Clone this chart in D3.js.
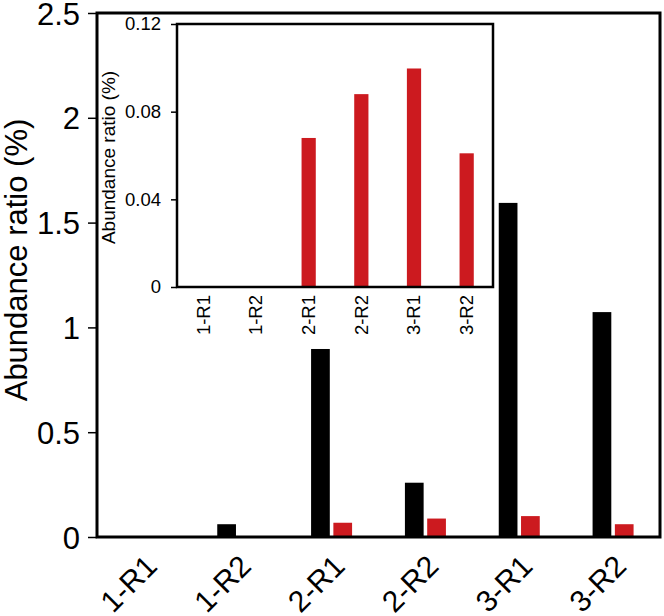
<!DOCTYPE html>
<html>
<head>
<meta charset="utf-8">
<script src="https://cdn.jsdelivr.net/npm/d3@7"></script>
<style>
  html, body { margin: 0; padding: 0; background: #fff; }
  text { font-family: "Liberation Sans", Arial, sans-serif; fill: #000; }
</style>
</head>
<body>
<svg id="chart" width="664" height="616"></svg>
<script>
// ---- data ----
const categories = ["1-R1", "1-R2", "2-R1", "2-R2", "3-R1", "3-R2"];
const seriesNames = ["black", "red"];
const blackValues = [0, 0.061, 0.897, 0.259, 1.594, 1.073];
const redValues = [0, 0, 0.068, 0.088, 0.0997, 0.061];
const mainTicks = [0, 0.5, 1, 1.5, 2, 2.5];
const mainTickLabels = ["0", "0.5", "1", "1.5", "2", "2.5"];
const insetTicks = [0, 0.04, 0.08, 0.12];
const insetTickLabels = ["0", "0.04", "0.08", "0.12"];
const yTitle = "Abundance ratio (%)";
const colors = { black: "#000000", red: "#cc1a1f" };

const svg = d3.select("#chart");
const FONT = "'Liberation Sans', Arial, sans-serif";

// ---- main chart ----
const M = { left: 97, right: 660, top: 13, bottom: 537 };
const x0 = d3.scaleBand().domain(categories).range([M.left, M.right]).padding(0);
const x1 = d3.scaleBand().domain(seriesNames)
  .range([x0.bandwidth() / 2 - 20.5, x0.bandwidth() / 2 + 20.5]).paddingInner(0.16);
const y = d3.scaleLinear().domain([0, 2.5]).range([M.bottom, M.top]);

const rows = categories.map((c, i) => ({ cat: c, black: blackValues[i], red: redValues[i] }));

const g = svg.append("g");
rows.forEach(r => {
  seriesNames.forEach(s => {
    if (r[s] > 0) {
      g.append("rect")
        .attr("x", x0(r.cat) + x1(s))
        .attr("y", y(r[s]))
        .attr("width", x1.bandwidth())
        .attr("height", y(0) - y(r[s]))
        .attr("fill", colors[s]);
    }
  });
});

// main y axis
const yAxis = d3.axisLeft(y).tickValues(mainTicks)
  .tickFormat((d, i) => mainTickLabels[i]).tickSizeInner(9).tickSizeOuter(0).tickPadding(8);
const ya = svg.append("g").attr("transform", `translate(${M.left},0)`).call(yAxis);
ya.select(".domain").remove();
ya.selectAll(".tick line").attr("stroke", "#000").attr("stroke-width", 1.5);
ya.selectAll(".tick text").style("font-size", "31px")
  .style("font-family", FONT).attr("dy", "0.36em");

// main frame
svg.append("rect").attr("x", M.left).attr("y", M.top)
  .attr("width", M.right - M.left).attr("height", M.bottom - M.top)
  .attr("fill", "none").attr("stroke", "#000").attr("stroke-width", 3);

// main x labels
svg.append("g").selectAll("text").data(categories).join("text")
  .attr("transform", d => `translate(${x0(d) + x0.bandwidth() / 2 + 15},${M.bottom + 31}) rotate(-45)`)
  .attr("text-anchor", "end")
  .style("font-size", "30px")
  .text(d => d);

// main y title
svg.append("text")
  .attr("transform", `translate(27,260) rotate(-90)`)
  .attr("text-anchor", "middle")
  .style("font-size", "31px")
  .text(yTitle);

// ---- inset ----
const I = { left: 177, right: 493, top: 24, bottom: 287 };
svg.append("rect").attr("x", I.left).attr("y", I.top)
  .attr("width", I.right - I.left).attr("height", I.bottom - I.top)
  .attr("fill", "#fff").attr("stroke", "none");

const xi = d3.scaleBand().domain(categories).range([I.left, I.right]).paddingInner(0.73).paddingOuter(0.365);
const yi = d3.scaleLinear().domain([0, 0.12]).range([I.bottom, I.top]);

svg.append("g").selectAll("rect").data(categories.map((c, i) => ({ cat: c, v: redValues[i] })).filter(d => d.v > 0))
  .join("rect")
  .attr("x", d => xi(d.cat))
  .attr("y", d => yi(d.v))
  .attr("width", xi.bandwidth())
  .attr("height", d => yi(0) - yi(d.v))
  .attr("fill", colors.red);

const yiAxis = d3.axisLeft(yi).tickValues(insetTicks)
  .tickFormat((d, i) => insetTickLabels[i]).tickSizeInner(6).tickSizeOuter(0).tickPadding(10);
const yia = svg.append("g").attr("transform", `translate(${I.left},0)`).call(yiAxis);
yia.select(".domain").remove();
yia.selectAll(".tick line").attr("stroke", "#000").attr("stroke-width", 1.5);
yia.selectAll(".tick text").style("font-size", "18.5px")
  .style("font-family", FONT);

svg.append("rect").attr("x", I.left).attr("y", I.top)
  .attr("width", I.right - I.left).attr("height", I.bottom - I.top)
  .attr("fill", "none").attr("stroke", "#000").attr("stroke-width", 2.5);

// inset x labels
svg.append("g").selectAll("text").data(categories).join("text")
  .attr("transform", d => `translate(${xi(d) + xi.bandwidth() / 2},${I.bottom + 8}) rotate(-90)`)
  .attr("text-anchor", "end")
  .attr("dy", "0.35em")
  .style("font-size", "18.5px")
  .text(d => d);

// inset y title
svg.append("text")
  .attr("transform", `translate(115,${(I.top + I.bottom) / 2 + 2}) rotate(-90)`)
  .attr("text-anchor", "middle")
  .style("font-size", "19px")
  .text(yTitle);
</script>
</body>
</html>
